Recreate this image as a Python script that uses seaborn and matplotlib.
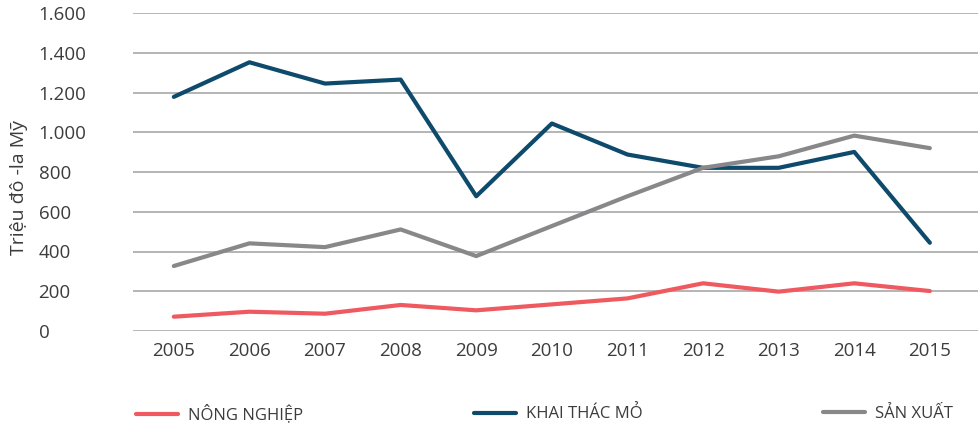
import matplotlib
matplotlib.use("Agg")
import matplotlib.pyplot as plt
from matplotlib.lines import Line2D
import seaborn as sns
import pandas as pd

years = [2005, 2006, 2007, 2008, 2009, 2010, 2011, 2012, 2013, 2014, 2015]
nong_nghiep = [72, 97, 87, 131, 104, 134, 164, 240, 198, 240, 201]
khai_thac_mo = [1178, 1352, 1245, 1265, 678, 1044, 888, 821, 821, 901, 444]
san_xuat = [327, 441, 422, 511, 377, 528, 678, 821, 879, 983, 920]
series_names = ["NÔNG NGHIỆP", "KHAI THÁC MỎ", "SẢN XUẤT"]
colors = ["#EE5A5F", "#0E4A6B", "#88888B"]
y_ticks = [0, 200, 400, 600, 800, 1000, 1200, 1400, 1600]
y_tick_labels = ["0", "200", "400", "600", "800", "1.000", "1.200", "1.400", "1.600"]
y_label = "Triệu đô -la Mỹ"

sns.set_theme(style="white")
plt.rcParams['font.family'] = ['Open Sans', 'DejaVu Sans']

rows = []
for name, vals in zip(series_names, [nong_nghiep, khai_thac_mo, san_xuat]):
    for i, (y, v) in enumerate(zip(years, vals)):
        rows.append({"idx": i, "year": y, "value": v, "series": name})
df = pd.DataFrame(rows)

fig = plt.figure(figsize=(9.79, 4.24), dpi=100)
ax = fig.add_axes([133/979, 1-331/424, 846/979, 318/424])

sns.lineplot(data=df, x="idx", y="value", hue="series", hue_order=series_names,
             palette=colors, linewidth=3.0, ax=ax, legend=False, sort=False)

ax.set_ylim(0, 1600)
ax.set_xlim(-0.54, 10.65)
ax.set_yticks(y_ticks)
ax.set_yticklabels(y_tick_labels)
ax.set_xticks(range(len(years)))
ax.set_xticklabels([str(y) for y in years])
for yv in y_ticks:
    ax.axhline(yv, color="#A0A0A0", linewidth=1.1 if yv else 1.8, zorder=0)
for s in ax.spines.values():
    s.set_visible(False)
ax.tick_params(axis="y", length=0, pad=68, labelsize=13.5, labelcolor="#3c3c3c")
ax.tick_params(axis="x", length=0, pad=8, labelsize=13.5, labelcolor="#3c3c3c")
for lbl in ax.get_yticklabels():
    lbl.set_horizontalalignment("left")
ax.set_xlabel("")
ax.set_ylabel(y_label, fontsize=14, color="#3c3c3c")
ax.yaxis.set_label_coords(-0.124, 0.45)

label_x = [121, 459, 808]
for name, c, lx in zip(series_names, colors, label_x):
    fig.legend([Line2D([], [], color=c, linewidth=3.0)], [name], loc="center left",
               bbox_to_anchor=(lx/979, 1-414/424), frameon=False,
               handlelength=2.5, handletextpad=0.65, labelcolor="#3c3c3c",
               prop={"size": 12})

fig.savefig("out.png", dpi=100)
